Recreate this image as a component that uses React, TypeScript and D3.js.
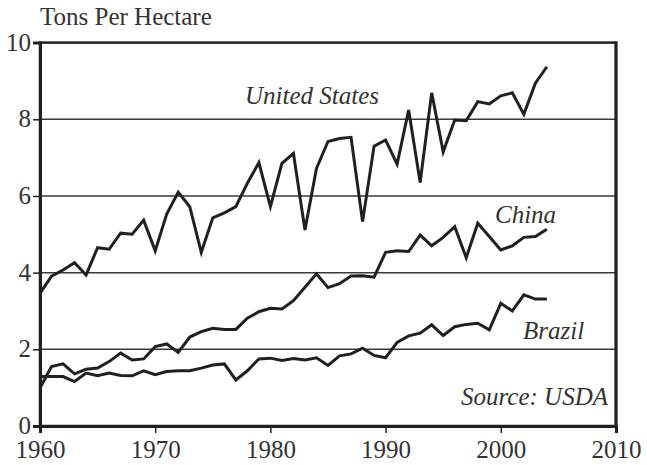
import React, { useEffect, useRef } from "react";
import * as d3 from "d3";

const years = d3.range(1960, 2005);
const unitedStates = [
  3.46, 3.91, 4.07, 4.26, 3.94, 4.65, 4.61, 5.03, 5.0, 5.37,
  4.57, 5.53, 6.1, 5.72, 4.53, 5.43, 5.56, 5.72, 6.33, 6.87,
  5.72, 6.85, 7.11, 5.11, 6.72, 7.42, 7.5, 7.53, 5.33, 7.3,
  7.46, 6.83, 8.24, 6.35, 8.69, 7.15, 7.98, 7.96, 8.46, 8.4,
  8.61, 8.69, 8.13, 8.94, 9.37,
];
const china = [
  0.99, 1.55, 1.62, 1.36, 1.48, 1.51, 1.68, 1.9, 1.72, 1.75,
  2.07, 2.14, 1.92, 2.32, 2.46, 2.55, 2.52, 2.52, 2.81, 2.98,
  3.07, 3.05, 3.27, 3.62, 3.97, 3.61, 3.71, 3.91, 3.92, 3.88,
  4.53, 4.57, 4.55, 4.98, 4.7, 4.92, 5.2, 4.39, 5.29, 4.94,
  4.59, 4.7, 4.92, 4.94, 5.13,
];
const brazil = [
  1.29, 1.29, 1.29, 1.16, 1.38, 1.31, 1.38, 1.32, 1.31, 1.44,
  1.34, 1.42, 1.44, 1.44, 1.51, 1.59, 1.62, 1.2, 1.44, 1.75,
  1.77, 1.71, 1.76, 1.72, 1.78, 1.58, 1.83, 1.88, 2.03, 1.84,
  1.78, 2.18, 2.35, 2.42, 2.64, 2.36, 2.59, 2.65, 2.68, 2.51,
  3.2, 3.0, 3.42, 3.31, 3.31,
];
const xTicks = [1960, 1970, 1980, 1990, 2000, 2010];
const yTicks = [0, 2, 4, 6, 8, 10];

export default function App() {
  const svgRef = useRef<SVGSVGElement>(null);

  useEffect(() => {
    const w = 647;
    const h = 465;
    const font = '"Liberation Serif", "DejaVu Serif", serif';
    const ink = "#231f20";
    const svg = d3.select(svgRef.current).attr("width", w).attr("height", h);
    svg.selectAll("*").remove();

    const x = d3.scaleLinear().domain([1960, 2010]).range([40, 616]);
    const y = d3.scaleLinear().domain([0, 10]).range([426, 42.6]);

    // gridlines
    svg
      .selectAll(".grid")
      .data(yTicks.filter((t) => t > 0 && t < 10))
      .join("line")
      .attr("x1", x(1960))
      .attr("x2", x(2010))
      .attr("y1", (d) => y(d))
      .attr("y2", (d) => y(d))
      .attr("stroke", "#3a3a3a")
      .attr("stroke-width", 1.5);

    // frame
    svg
      .append("rect")
      .attr("x", x(1960))
      .attr("y", y(10))
      .attr("width", x(2010) - x(1960))
      .attr("height", y(0) - y(10))
      .attr("fill", "none")
      .attr("stroke", ink)
      .attr("stroke-width", 2.5);

    // y axis
    const yAxis = d3.axisLeft(y).tickValues(yTicks).tickSize(7).tickPadding(2);
    const gy = svg.append("g").attr("transform", `translate(${x(1960)},0)`).call(yAxis);
    gy.attr("font-family", null).attr("font-size", null);
    gy.select(".domain").attr("stroke", ink).attr("stroke-width", 3);
    gy.selectAll(".tick line").attr("stroke", ink).attr("stroke-width", 1.5);
    gy.selectAll(".tick text")
      .style("font-family", font)
      .style("font-size", "25px")
      .attr("dy", "0.3em")
      .attr("fill", "#333");

    // x axis
    const xAxis = d3
      .axisBottom(x)
      .tickValues(xTicks)
      .tickFormat(d3.format("d"))
      .tickSize(7)
      .tickPadding(7);
    const gx = svg.append("g").attr("transform", `translate(0,${y(0)})`).call(xAxis);
    gx.attr("font-family", null).attr("font-size", null);
    gx.select(".domain").attr("stroke", ink).attr("stroke-width", 3);
    gx.selectAll(".tick line").attr("stroke", ink).attr("stroke-width", 1.5);
    gx.selectAll(".tick text")
      .style("font-family", font)
      .style("font-size", "25px")
      .attr("fill", "#333");

    // right border thicker
    svg
      .append("line")
      .attr("x1", x(2010))
      .attr("x2", x(2010))
      .attr("y1", y(10) - 1)
      .attr("y2", y(0) + 1)
      .attr("stroke", ink)
      .attr("stroke-width", 3);

    const line = d3
      .line<number>()
      .x((d, i) => x(years[i]))
      .y((d) => y(d));

    svg
      .selectAll(".series")
      .data([unitedStates, china, brazil])
      .join("path")
      .attr("d", (d) => line(d))
      .attr("fill", "none")
      .attr("stroke", ink)
      .attr("stroke-width", 3)
      .attr("stroke-linejoin", "miter");

    // title
    svg
      .append("text")
      .attr("x", 40)
      .attr("y", 25)
      .style("font-family", font)
      .style("font-size", "25px")
      .attr("fill", "#333")
      .text("Tons Per Hectare");

    const labels = [
      { t: "United States", x: 245, y: 104, anchor: "start" },
      { t: "China", x: 495, y: 223, anchor: "start" },
      { t: "Brazil", x: 523, y: 339, anchor: "start" },
      { t: "Source: USDA", x: 608, y: 405, anchor: "end" },
    ];
    svg
      .selectAll(".label")
      .data(labels)
      .join("text")
      .attr("x", (d) => d.x)
      .attr("y", (d) => d.y)
      .attr("text-anchor", (d) => d.anchor)
      .style("font-family", font)
      .style("font-style", "italic")
      .style("font-size", "25px")
      .attr("fill", "#333")
      .text((d) => d.t);
  }, []);

  return (
    <svg
      ref={svgRef}
      style={{ position: "absolute", left: 0, top: 0, background: "#fff" }}
    ></svg>
  );
}
